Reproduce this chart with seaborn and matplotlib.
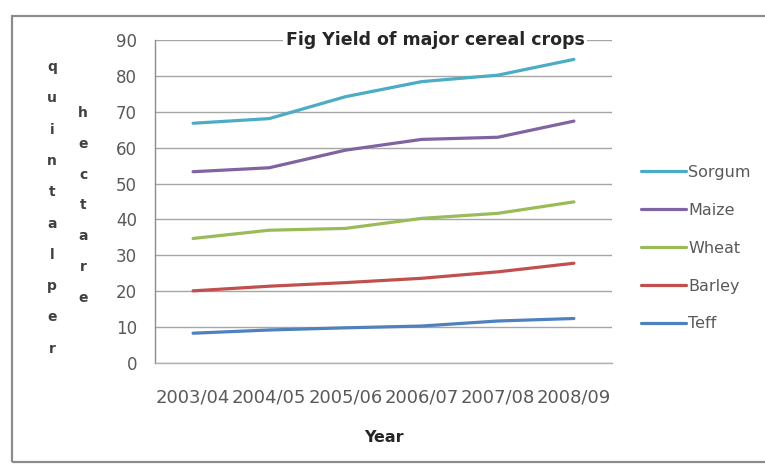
import matplotlib
matplotlib.use("Agg")
import matplotlib.pyplot as plt
import seaborn as sns
import pandas as pd
from matplotlib.patches import Rectangle

# Yield of major cereal crops (quintal per hectare)
years = ["2003/04", "2004/05", "2005/06", "2006/07", "2007/08", "2008/09"]
crops = ["Sorgum", "Maize", "Wheat", "Barley", "Teff"]
sorgum = [66.8, 68.1, 74.2, 78.4, 80.2, 84.6]
maize = [53.3, 54.4, 59.3, 62.3, 62.9, 67.4]
wheat = [34.7, 37.0, 37.5, 40.3, 41.7, 44.9]
barley = [20.1, 21.4, 22.4, 23.6, 25.4, 27.8]
teff = [8.3, 9.2, 9.8, 10.3, 11.7, 12.4]
colors = ["#4bacc6", "#8064a2", "#9bbb59", "#c0504d", "#4f81bd"]
yticks = [0, 10, 20, 30, 40, 50, 60, 70, 80, 90]

series = dict(zip(crops, [sorgum, maize, wheat, barley, teff]))
df = pd.DataFrame(
    [(y, i, c, v) for c in crops for i, (y, v) in enumerate(zip(years, series[c]))],
    columns=["Year", "pos", "Crop", "Yield"],
)

sns.set_theme(style="white")
plt.rcParams["font.family"] = ["DejaVu Sans"]

W, H = 765, 467
fig = plt.figure(figsize=(W / 100, H / 100), dpi=100)
fig.patch.set_facecolor("white")

# outer chart frame
fig.patches.append(Rectangle((12 / W, 1 - 462 / H), 1.0, (462 - 16) / H,
                             transform=fig.transFigure, fill=False,
                             edgecolor="#8c8c8c", linewidth=1.6, zorder=0))

ax = fig.add_axes([155 / W, 1 - 363 / H, (612 - 155) / W, (363 - 40) / H])

sns.lineplot(data=df, x="pos", y="Yield", hue="Crop", hue_order=crops,
             palette=colors, linewidth=2.3, ax=ax, legend=False, zorder=3)

ax.set_xlim(-0.5, len(years) - 0.5)
ax.set_ylim(0, 90)
ax.set_yticks(yticks)
ax.set_yticklabels([str(t) for t in yticks])
ax.grid(axis="y", color="#a6a6a6", linewidth=1.0, zorder=1)
ax.grid(axis="x", visible=False)

# category boundaries carry the tick marks, centres carry the labels
ax.set_xticks([i - 0.5 for i in range(len(years) + 1)])
ax.set_xticklabels([])
ax.set_xticks(list(range(len(years))), minor=True)
ax.set_xticklabels(years, minor=True)
ax.tick_params(axis="x", which="major", length=5, color="#a6a6a6", width=1, direction="out")
ax.tick_params(axis="x", which="minor", length=0, pad=18, labelsize=13, labelcolor="#595959")
ax.tick_params(axis="y", length=5, color="#a6a6a6", width=1, direction="out",
               pad=8, labelsize=12, labelcolor="#595959")

for s in ["top", "right"]:
    ax.spines[s].set_visible(False)
ax.spines["left"].set_color("#8c8c8c")
ax.spines["left"].set_linewidth(1.0)
ax.spines["bottom"].set_color("#b0b0b0")
ax.spines["bottom"].set_linewidth(1.0)
ax.set_xlabel("")
ax.set_ylabel("")

# title with white backing over the top gridline
fig.text(435 / W, 1 - 40 / H, "Fig Yield of major cereal crops", ha="center", va="center",
         fontsize=12.5, fontweight="bold", color="#262626",
         bbox=dict(facecolor="white", edgecolor="none", pad=1.5), zorder=5)

fig.text(384 / W, 1 - 437 / H, "Year", ha="center", va="center",
         fontsize=11.5, fontweight="bold", color="#262626")

# stacked vertical axis caption
for k, ch in enumerate("quintalper"):
    fig.text(52 / W, 1 - (67 + 31.3 * k) / H, ch, ha="center", va="center",
             fontsize=10, fontweight="bold", color="#404040")
for k, ch in enumerate("hectare"):
    fig.text(83 / W, 1 - (113 + 30.8 * k) / H, ch, ha="center", va="center",
             fontsize=10, fontweight="bold", color="#404040")

handles = [plt.Line2D([], [], color=c, linewidth=2.3) for c in colors]
leg = fig.legend(handles, crops, loc="upper left",
                 bbox_to_anchor=(641 / W, 1 - 165 / H), frameon=False,
                 fontsize=11.5, handlelength=2.8, handletextpad=0.15,
                 labelspacing=1.43, borderpad=0, borderaxespad=0)
for t in leg.get_texts():
    t.set_color("#595959")

fig.savefig("out.png", dpi=100, facecolor="white")
